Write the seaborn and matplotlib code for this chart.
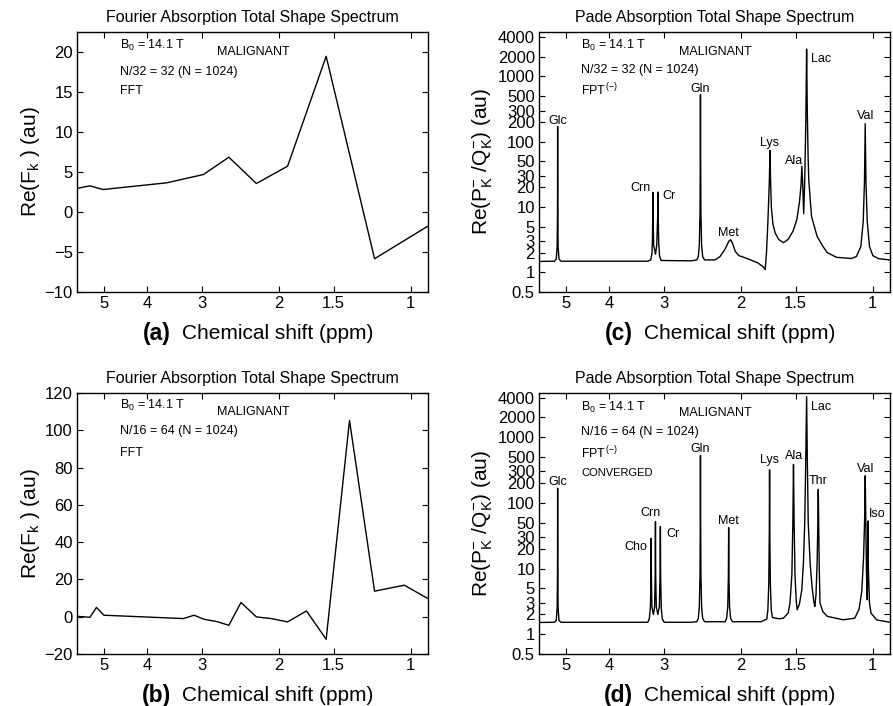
import matplotlib
matplotlib.use('Agg')
import matplotlib.pyplot as plt
import seaborn as sns
import pandas as pd
from matplotlib.ticker import FixedLocator, FixedFormatter, NullLocator

sns.set_style('ticks')
plt.rcParams['font.family'] = ['Liberation Sans', 'DejaVu Sans']
plt.rcParams['mathtext.fontset'] = 'custom'
plt.rcParams['mathtext.rm'] = 'Liberation Sans'
plt.rcParams['mathtext.it'] = 'Liberation Sans:italic'
plt.rcParams['mathtext.bf'] = 'Liberation Sans:bold'
for k in ['text.color', 'axes.labelcolor', 'xtick.color', 'ytick.color', 'axes.edgecolor']:
    plt.rcParams[k] = 'black'

# ---------------- data ----------------
# (a) FFT, N/32 = 32
ppm_a = [5.77, 5.39, 5.03, 3.60, 2.97, 2.60, 2.25, 1.91, 1.56, 1.21, 0.914]
val_a = [2.95, 3.27, 2.81, 3.65, 4.69, 6.85, 3.56, 5.73, 19.46, -5.84, -1.76]

# (b) FFT, N/16 = 64
ppm_b = [5.77, 5.39, 5.21, 5.01, 3.30, 3.12, 2.96, 2.77, 2.60, 2.44, 2.25,
         2.08, 1.91, 1.73, 1.56, 1.38, 1.21, 1.035, 0.914]
val_b = [0.2, -0.3, 5.0, 0.8, -1.0, 0.8, -1.4, -2.6, -4.6, 7.6, -0.1,
         -1.0, -2.8, 3.1, -12.1, 105.3, 13.7, 16.9, 9.7]

# (c) FPT(-), N/32 = 32
ppm_c = [5.77, 5.32, 5.27, 5.245, 5.236, 5.232, 5.228, 5.219, 5.195, 5.14,
         3.26, 3.21, 3.19, 3.18, 3.174, 3.172, 3.169, 3.16, 3.13, 3.11, 3.095,
         3.09, 3.086, 3.078, 3.065, 3.04,
         2.60, 2.52, 2.50, 2.487, 2.478, 2.474, 2.472, 2.470, 2.466, 2.457, 2.444, 2.42,
         2.29, 2.23, 2.17, 2.13, 2.11, 2.09, 2.06, 2.02, 1.97, 1.90, 1.83, 1.78,
         1.76, 1.748, 1.735, 1.722, 1.716, 1.712, 1.704, 1.69, 1.67, 1.64, 1.60,
         1.56, 1.52, 1.49, 1.47, 1.458, 1.452, 1.446, 1.438, 1.43, 1.422, 1.416,
         1.411, 1.405, 1.40, 1.38, 1.34, 1.30, 1.27, 1.21, 1.12,
         1.09, 1.065, 1.052, 1.045, 1.041, 1.037, 1.03, 1.018, 1.00, 0.97, 0.914]
val_c = [1.47, 1.48, 1.6, 2.5, 8, 172, 8, 2.5, 1.6, 1.48,
         1.48, 1.55, 1.9, 3.2, 10, 16.8, 6, 2.6, 1.9, 2.6, 7,
         17, 7, 2.8, 1.8, 1.52,
         1.5, 1.55, 1.75, 2.6, 8, 60, 525, 60, 8, 2.6, 1.75, 1.55,
         1.55, 1.75, 2.3, 3.0, 3.16, 2.8, 2.1, 1.8, 1.7, 1.55, 1.40, 1.22,
         1.10, 2.0, 6, 25, 73.6, 30, 10, 5.5, 4.0, 3.2, 2.85,
         3.2, 4.3, 6.5, 12, 22, 42, 25, 7.9, 25, 200, 2630,
         300, 60, 26, 7.2, 3.55, 2.5, 2.0, 1.7, 1.63,
         1.75, 2.5, 6, 25, 189, 25, 6, 2.5, 1.8, 1.62, 1.55]

# (d) FPT(-), N/16 = 64, converged
ppm_d = [5.77, 5.32, 5.27, 5.245, 5.236, 5.232, 5.228, 5.219, 5.195, 5.14,
         3.26, 3.235, 3.215, 3.205, 3.202, 3.199, 3.19, 3.165, 3.145, 3.135,
         3.131, 3.127, 3.117, 3.092, 3.068, 3.056, 3.051, 3.047, 3.037, 3.02, 2.99,
         2.60, 2.52, 2.50, 2.487, 2.478, 2.474, 2.472, 2.470, 2.466, 2.457, 2.444, 2.42,
         2.17, 2.155, 2.142, 2.135, 2.132, 2.129, 2.122, 2.11, 2.09,
         1.80, 1.745, 1.735, 1.727, 1.722, 1.72, 1.718, 1.713, 1.705, 1.695, 1.64, 1.60,
         1.56, 1.545, 1.53, 1.522, 1.517, 1.512, 1.505, 1.495, 1.488, 1.47, 1.452,
         1.44, 1.43, 1.422, 1.416, 1.411, 1.404, 1.39, 1.375, 1.362, 1.356, 1.348,
         1.34, 1.335, 1.332, 1.329, 1.325, 1.32, 1.30, 1.27, 1.17,
         1.10, 1.075, 1.06, 1.05, 1.044, 1.041, 1.038, 1.034, 1.03, 1.027, 1.0255,
         1.024, 1.018, 1.01, 0.98, 0.914]
val_d = [1.51, 1.52, 1.62, 2.5, 8, 167, 8, 2.5, 1.62, 1.52,
         1.52, 1.7, 2.6, 8, 28.9, 8, 2.6, 2.0, 2.6, 8,
         52, 8, 2.6, 2.0, 2.6, 8, 43.7, 8, 2.5, 1.7, 1.52,
         1.52, 1.55, 1.75, 2.6, 8, 60, 527, 60, 8, 2.6, 1.75, 1.55,
         1.55, 1.75, 2.6, 8, 42, 8, 2.6, 1.75, 1.55,
         1.55, 1.7, 2.4, 6, 40, 318, 40, 6, 2.4, 1.8, 1.72, 1.75,
         2.1, 3.0, 8, 50, 384, 50, 8, 3.2, 2.36, 2.9, 4.8,
         12, 50, 500, 4140, 500, 50, 12, 5, 3.0, 2.65, 4,
         12, 50, 161, 50, 10, 3.0, 2.2, 1.87, 1.66,
         1.75, 2.4, 4.5, 15, 60, 258, 60, 8, 3.35, 10, 53,
         10, 3.0, 2.1, 1.65, 1.52]

# peak labels: name, ppm, value
labels_c = [("Glc", 5.23, 210), ("Crn", 3.39, 19.8), ("Cr", 2.91, 15),
            ("Gln", 2.47, 650), ("Met", 2.13, 4.05), ("Lys", 1.72, 97),
            ("Ala", 1.51, 51), ("Lac", 1.31, 1870), ("Val", 1.04, 250)]
labels_d = [("Glc", 5.23, 210), ("Cho", 3.48, 21.3), ("Crn", 3.21, 69),
            ("Cr", 2.86, 34), ("Gln", 2.47, 668), ("Met", 2.13, 53),
            ("Lys", 1.72, 453), ("Ala", 1.51, 510), ("Lac", 1.31, 2840),
            ("Thr", 1.33, 218), ("Val", 1.04, 322), ("Iso", 0.98, 67)]

xticks = [5, 4, 3, 2, 1.5, 1]
xticklabels = ["5", "4", "3", "2", "1.5", "1"]
logyticks = [0.5, 1, 2, 3, 5, 10, 20, 30, 50, 100, 200, 300, 500, 1000, 2000, 4000]
logyticklabels = ["0.5", "1", "2", "3", "5", "10", "20", "30", "50", "100", "200",
                  "300", "500", "1000", "2000", "4000"]

# ---------------- figure ----------------
fig = plt.figure(figsize=(8.93, 7.06), dpi=100)
W, H = 893, 706


def make_ax(left, top, right, bottom):
    return fig.add_axes([left / W, 1 - bottom / H, (right - left) / W, (bottom - top) / H])


ax_a = make_ax(77, 32, 428, 292)
ax_c = make_ax(539, 32, 890, 292)
ax_b = make_ax(77, 393, 428, 654)
ax_d = make_ax(539, 393, 890, 654)


def setup(ax, logy):
    ax.set_xscale('log')
    if logy:
        ax.set_yscale('log')


def draw(ax, x, y):
    df = pd.DataFrame({'ppm': x, 'val': y})
    sns.lineplot(data=df, x='ppm', y='val', ax=ax, color='black', linewidth=1.0,
                 sort=False, estimator=None)


def finish(ax, title, letter, ylabel, logy, ylim, yticks=None):
    ax.set_xlim(5.77, 0.914)
    ax.xaxis.set_major_locator(FixedLocator(xticks))
    ax.xaxis.set_major_formatter(FixedFormatter(xticklabels))
    ax.xaxis.set_minor_locator(NullLocator())
    ax.set_ylim(*ylim)
    if logy:
        ax.yaxis.set_major_locator(FixedLocator(logyticks))
        ax.yaxis.set_major_formatter(FixedFormatter(logyticklabels))
        ax.yaxis.set_minor_locator(NullLocator())
    else:
        ax.set_yticks(yticks)
    ax.tick_params(direction='in', top=True, right=True, length=4, width=0.8,
                   labelsize=12, pad=3, colors='black')
    for s in ax.spines.values():
        s.set_linewidth(1.0)
        s.set_color('black')
    ax.set_title(title, fontsize=11.5, pad=7)
    ax.set_xlabel('')
    ax.set_ylabel(ylabel, fontsize=15, labelpad=2)
    ax.text(0.268, -0.158, letter, transform=ax.transAxes, ha='right', va='center',
            fontsize=16.5, fontweight='bold')
    ax.text(0.300, -0.158, 'Chemical shift (ppm)', transform=ax.transAxes,
            ha='left', va='center', fontsize=15)


for ax, lg in [(ax_a, False), (ax_b, False), (ax_c, True), (ax_d, True)]:
    setup(ax, lg)

draw(ax_a, ppm_a, val_a)
draw(ax_b, ppm_b, val_b)
draw(ax_c, ppm_c, val_c)
draw(ax_d, ppm_d, val_d)

fy = r"Re(F$_{\mathrm{k}}$ ) (au)"
py = r"Re(P$_{\mathrm{K}}^{-}$ /Q$_{\mathrm{K}}^{-}$) (au)"

finish(ax_a, 'Fourier Absorption Total Shape Spectrum', '(a)', fy, False, (-10, 22.5),
       [-10, -5, 0, 5, 10, 15, 20])
finish(ax_b, 'Fourier Absorption Total Shape Spectrum', '(b)', fy, False, (-20, 120),
       [-20, 0, 20, 40, 60, 80, 100, 120])
finish(ax_c, 'Pade Absorption Total Shape Spectrum', '(c)', py, True, (0.5, 4800))
finish(ax_d, 'Pade Absorption Total Shape Spectrum', '(d)', py, True, (0.5, 4700))

fs = 9
# annotations
ax_a.text(0.122, 0.95, r"B$_0$ = 14.1 T", transform=ax_a.transAxes, fontsize=fs, va='center')
ax_a.text(0.40, 0.923, "MALIGNANT", transform=ax_a.transAxes, fontsize=fs, va='center')
ax_a.text(0.122, 0.846, "N/32 = 32 (N = 1024)", transform=ax_a.transAxes, fontsize=fs, va='center')
ax_a.text(0.122, 0.773, "FFT", transform=ax_a.transAxes, fontsize=fs, va='center')

ax_b.text(0.122, 0.954, r"B$_0$ = 14.1 T", transform=ax_b.transAxes, fontsize=fs, va='center')
ax_b.text(0.40, 0.926, "MALIGNANT", transform=ax_b.transAxes, fontsize=fs, va='center')
ax_b.text(0.122, 0.854, "N/16 = 64 (N = 1024)", transform=ax_b.transAxes, fontsize=fs, va='center')
ax_b.text(0.122, 0.769, "FFT", transform=ax_b.transAxes, fontsize=fs, va='center')

ax_c.text(0.12, 0.95, r"B$_0$ = 14.1 T", transform=ax_c.transAxes, fontsize=fs, va='center')
ax_c.text(0.40, 0.923, "MALIGNANT", transform=ax_c.transAxes, fontsize=fs, va='center')
ax_c.text(0.12, 0.854, "N/32 = 32 (N = 1024)", transform=ax_c.transAxes, fontsize=fs, va='center')
ax_c.text(0.12, 0.777, r"FPT$^{\,(-)}$", transform=ax_c.transAxes, fontsize=fs, va='center')

ax_d.text(0.12, 0.946, r"B$_0$ = 14.1 T", transform=ax_d.transAxes, fontsize=fs, va='center')
ax_d.text(0.40, 0.923, "MALIGNANT", transform=ax_d.transAxes, fontsize=fs, va='center')
ax_d.text(0.12, 0.85, "N/16 = 64 (N = 1024)", transform=ax_d.transAxes, fontsize=fs, va='center')
ax_d.text(0.12, 0.77, r"FPT$^{\,(-)}$", transform=ax_d.transAxes, fontsize=fs, va='center')
ax_d.text(0.12, 0.693, "CONVERGED", transform=ax_d.transAxes, fontsize=8, va='center')

for name, x, y in labels_c:
    ax_c.text(x, y, name, fontsize=fs, ha='center', va='center')
for name, x, y in labels_d:
    ax_d.text(x, y, name, fontsize=fs, ha='center', va='center')

fig.savefig('out.png', dpi=100, facecolor='white')
